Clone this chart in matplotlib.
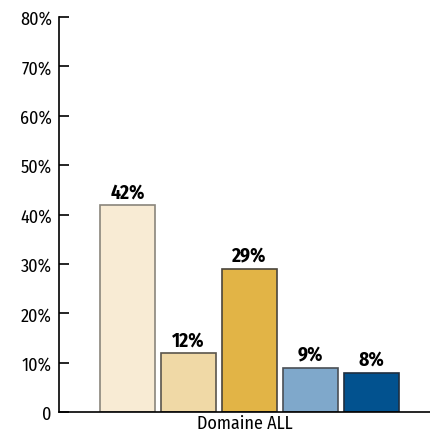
import matplotlib
matplotlib.use('Agg')
import matplotlib.pyplot as plt

plt.rcParams['font.family'] = ['Fira Sans Condensed', 'Open Sans', 'DejaVu Sans']

categories = ['A', 'B', 'C', 'D', 'E']
values = [42, 12, 29, 9, 8]
labels = ['42%', '12%', '29%', '9%', '8%']
colors = ['#F8EBD4', '#F0D9A6', '#E2B446', '#7FA8CB', '#02528F']
edges = ['#8a857c', '#5a554c', '#4a453c', '#4a4f55', '#1f2f40']
group_label = 'Domaine ALL'

fig = plt.figure(figsize=(4.3, 4.39), dpi=100)
ax = fig.add_axes([0.137, 0.059, 0.863, 0.9])

x = list(range(len(values)))
ax.bar(x, [v / 100 for v in values], width=0.9, color=colors, edgecolor=edges, linewidth=1.2)
for a, b, t in zip(x, values, labels):
    ax.text(a, b / 100 + 0.007, t, ha='center', va='bottom', fontsize=14, fontweight='bold')

ax.set_ylim(0, 0.8)
ax.set_xlim(-1.123, 4.959)
ax.set_yticks([i / 10 for i in range(9)])
ax.set_yticklabels(['0'] + ['%d%%' % (i * 10) for i in range(1, 9)], fontsize=13)
ax.set_xticks([1.92])
ax.set_xticklabels([group_label], fontsize=13)
ax.tick_params(axis='y', direction='in', length=7, width=1.2, pad=5)
ax.tick_params(axis='x', length=0, pad=1)
for s in ['top', 'right']:
    ax.spines[s].set_visible(False)
ax.spines['left'].set_linewidth(1.2)
ax.spines['bottom'].set_linewidth(1.2)

plt.savefig('out.png', dpi=100)
